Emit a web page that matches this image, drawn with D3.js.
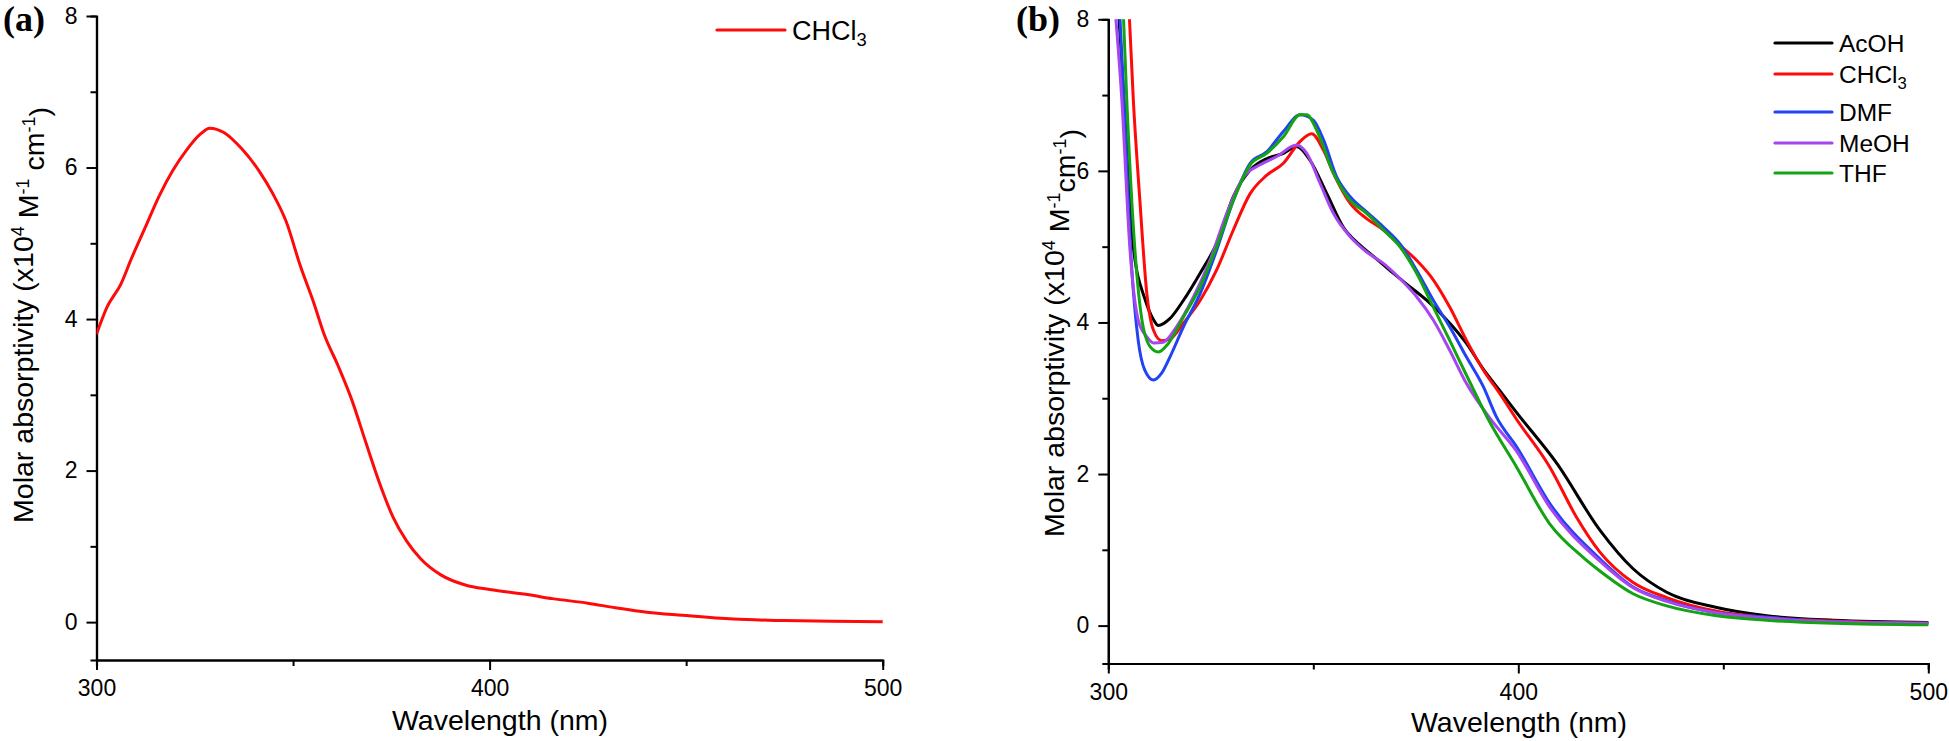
<!DOCTYPE html>
<html>
<head>
<meta charset="utf-8">
<script src="https://cdn.jsdelivr.net/npm/d3@7"></script>
<style>
  html, body { margin: 0; padding: 0; background: #fff; }
  svg { display: block; }
  text { font-family: Arial, "Liberation Sans", sans-serif; fill: #000; }
</style>
</head>
<body>
<svg id="chart" width="1949" height="741"></svg>
<script>
// ---- data (wavelength nm, molar absorptivity x10^4) ----
const xTicks = [300, 400, 500];
const xMinor = [350, 450];
const yTicks = [0, 2, 4, 6, 8];
const yMinor = [1, 3, 5, 7];

// panel (a): CHCl3 only
const chcl3A = [
  [300, 3.80], [302.7, 4.16], [306.2, 4.46], [308.9, 4.80], [312.4, 5.21],
  [315.9, 5.62], [319.4, 5.96], [322.9, 6.23], [326.4, 6.44], [328.8, 6.52],
  [332.5, 6.46], [336.9, 6.25], [341.3, 5.96], [344.8, 5.66], [348.3, 5.28],
  [351.8, 4.71], [355.3, 4.21], [357.9, 3.80], [361.4, 3.39], [364.9, 2.94],
  [368.4, 2.39], [371.9, 1.85], [375.4, 1.39], [378.9, 1.07], [382.4, 0.84],
  [387.7, 0.62], [393.8, 0.49], [400, 0.43], [410, 0.36], [416, 0.31],
  [425, 0.25], [432, 0.19], [440, 0.13], [449, 0.09], [462, 0.04],
  [475, 0.02], [487, 0.01], [500, 0.005]
];

// panel (b): solvents
const acoh = [
  [302.3, 8.3], [304.3, 6.5], [306.1, 5.0], [309.0, 4.3], [311.0, 4.04], [312.2, 3.96],
  [315.0, 4.05], [318.3, 4.29], [322.4, 4.65], [326.4, 5.04], [330.5, 5.66],
  [334.6, 6.01], [338.6, 6.16], [342.7, 6.23], [345.9, 6.32], [349.2, 6.14],
  [353.3, 5.70], [357.3, 5.26], [361.4, 5.02], [365.4, 4.84], [369.5, 4.65],
  [373.6, 4.47], [377.7, 4.29], [383.3, 3.99], [387.4, 3.72], [391.5, 3.38],
  [395.5, 3.10], [399.6, 2.81], [409.4, 2.14], [419.9, 1.26], [428.0, 0.75],
  [436.2, 0.44], [448.4, 0.24], [460.6, 0.13], [476.9, 0.07], [500, 0.04]
];
const chcl3B = [
  [304.9, 8.3], [306.1, 6.94], [307.7, 5.61], [309.4, 4.38], [311.0, 3.90],
  [313.0, 3.76], [315.0, 3.78], [318.3, 3.99], [322.4, 4.29], [326.4, 4.69],
  [330.5, 5.22], [334.6, 5.70], [338.6, 5.94], [342.7, 6.10], [346.8, 6.39],
  [349.6, 6.49], [352.5, 6.27], [354.9, 5.97], [359.0, 5.57], [363.0, 5.37],
  [367.1, 5.22], [371.1, 5.02], [375.2, 4.82], [379.3, 4.56], [383.3, 4.20],
  [387.4, 3.76], [391.5, 3.37], [395.5, 3.06], [399.6, 2.72], [407.7, 2.09],
  [414.2, 1.43], [419.9, 0.97], [428.0, 0.57], [436.2, 0.37], [448.4, 0.19],
  [460.6, 0.11], [477, 0.06], [500, 0.03]
];
const dmf = [
  [302.6, 8.3], [303.8, 6.94], [305.7, 4.73], [307.3, 3.76], [308.9, 3.37],
  [311.0, 3.24], [313.0, 3.33], [315.0, 3.54], [318.3, 3.94], [322.4, 4.38],
  [326.4, 4.95], [330.5, 5.61], [334.6, 6.10], [338.6, 6.25], [342.7, 6.52],
  [346.8, 6.74], [350.0, 6.67], [352.5, 6.41], [355.7, 5.92], [359.0, 5.66],
  [363.0, 5.46], [367.1, 5.26], [371.1, 5.04], [375.2, 4.69], [379.3, 4.29],
  [383.3, 3.94], [387.4, 3.54], [391.5, 3.15], [394.7, 2.75], [399.6, 2.36],
  [407.7, 1.61], [419.9, 0.88], [428.0, 0.51], [436.2, 0.33], [448.4, 0.17],
  [460.6, 0.11], [477, 0.05], [500, 0.03]
];
const meoh = [
  [301.4, 8.3], [303.3, 6.94], [305.3, 4.95], [307.3, 4.03], [309.4, 3.81],
  [311.0, 3.73], [313.4, 3.74], [316.6, 3.94], [320.8, 4.34], [324.8, 4.82],
  [328.9, 5.44], [333.0, 5.92], [337.0, 6.08], [341.1, 6.19], [345.9, 6.34],
  [348.4, 6.23], [351.7, 5.83], [354.9, 5.44], [359.0, 5.13], [363.0, 4.93],
  [367.1, 4.78], [371.1, 4.58], [375.2, 4.34], [379.3, 4.03], [383.3, 3.63],
  [387.4, 3.19], [393.3, 2.72], [399.6, 2.30], [407.7, 1.56], [419.9, 0.85],
  [428.0, 0.50], [436.2, 0.32], [448.4, 0.17], [460.6, 0.10], [477, 0.05],
  [500, 0.03]
];
const thf = [
  [303.5, 8.3], [304.5, 6.94], [306.5, 4.95], [308.1, 4.07], [310.2, 3.68],
  [312.2, 3.61], [314.6, 3.72], [318.3, 4.07], [322.4, 4.47], [326.4, 5.00],
  [330.5, 5.61], [334.6, 6.08], [338.6, 6.23], [342.7, 6.45], [346.8, 6.74],
  [348.4, 6.74], [350.8, 6.54], [354.9, 5.97], [359.0, 5.61], [363.0, 5.44],
  [367.1, 5.22], [371.1, 5.00], [375.2, 4.65], [379.3, 4.20], [383.3, 3.76],
  [387.4, 3.30], [392.7, 2.72], [399.6, 2.09], [407.7, 1.34], [415.8, 0.90],
  [419.9, 0.72], [428.0, 0.42], [436.2, 0.26], [448.4, 0.13], [460.6, 0.07],
  [477, 0.03], [500, 0.01]
];

const seriesB = [
  { name: "AcOH", sub: "", color: "#000000", data: acoh },
  { name: "CHCl", sub: "3", color: "#ff0a0a", data: chcl3B },
  { name: "DMF", sub: "", color: "#2243f2", data: dmf },
  { name: "MeOH", sub: "", color: "#a546f0", data: meoh },
  { name: "THF", sub: "", color: "#13a313", data: thf }
];

const svg = d3.select("#chart");

// draws axes + title for one panel, returns the scales
function buildPanel(opts) {
  const x = d3.scaleLinear().domain([300, 500]).range(opts.xRange);
  const y = d3.scaleLinear().domain([-0.5, 8]).range(opts.yRange);
  const g = svg.append("g");

  const styleAxis = (sel) => {
    sel.select(".domain").attr("stroke", "#000").attr("stroke-width", 2.2);
    sel.selectAll(".tick line").attr("stroke", "#000").attr("stroke-width", 2);
    sel.selectAll(".tick text").style("font-size", "23px").attr("fill", "#000");
  };

  // minor ticks first so major sit on top
  g.append("g")
    .attr("transform", `translate(0,${opts.yRange[0]})`)
    .call(d3.axisBottom(x).tickValues(xMinor).tickSize(6).tickFormat(""))
    .call(styleAxis);
  g.append("g")
    .attr("transform", `translate(${opts.xRange[0]},0)`)
    .call(d3.axisLeft(y).tickValues(yMinor).tickSize(6).tickFormat(""))
    .call(styleAxis);

  g.append("g")
    .attr("transform", `translate(0,${opts.yRange[0]})`)
    .call(d3.axisBottom(x).tickValues(xTicks).tickSize(10).tickSizeOuter(0).tickPadding(10).tickFormat(d3.format("d")))
    .call(styleAxis);
  g.append("g")
    .attr("transform", `translate(${opts.xRange[0]},0)`)
    .call(d3.axisLeft(y).tickValues(yTicks).tickSize(10).tickSizeOuter(0).tickPadding(9).tickFormat(d3.format("d")))
    .call(styleAxis);

  // x title
  g.append("text")
    .attr("x", opts.xTitle[0])
    .attr("y", opts.xTitle[1])
    .attr("text-anchor", "middle")
    .style("font-size", "28.5px")
    .text("Wavelength (nm)");

  // y title with superscripts
  const yt = g.append("text")
    .attr("transform", `translate(${opts.yTitle[0]},${opts.yTitle[1]}) rotate(-90)`)
    .attr("text-anchor", "middle")
    .style("font-size", "28.5px");
  yt.append("tspan").text("Molar absorptivity (x10");
  yt.append("tspan").attr("dy", "-0.5em").style("font-size", "18px").text("4");
  yt.append("tspan").attr("dy", "0.5em").text(" M");
  yt.append("tspan").attr("dy", "-0.5em").style("font-size", "18px").text("-1");
  yt.append("tspan").attr("dy", "0.5em").text(opts.cmSpace ? " cm" : "cm");
  yt.append("tspan").attr("dy", "-0.5em").style("font-size", "18px").text("-1");
  yt.append("tspan").attr("dy", "0.5em").text(")");

  // panel letter
  g.append("text")
    .attr("x", opts.letterPos[0])
    .attr("y", opts.letterPos[1])
    .style("font-family", "'Liberation Serif', 'Times New Roman', serif")
    .style("font-weight", "bold")
    .style("font-size", "36px")
    .text(opts.letter);

  // clip region = plot area
  const clipId = "clip-" + opts.letter.replace(/[()]/g, "");
  svg.append("clipPath").attr("id", clipId)
    .append("rect")
    .attr("x", opts.xRange[0])
    .attr("y", y(8))
    .attr("width", opts.xRange[1] - opts.xRange[0] + 2)
    .attr("height", y(-0.5) - y(8));

  return { x, y, g, clipId };
}

function drawLine(panel, data, color) {
  const line = d3.line()
    .x((d) => panel.x(d[0]))
    .y((d) => panel.y(d[1]))
    .curve(d3.curveMonotoneX);
  panel.g.append("path")
    .datum(data)
    .attr("clip-path", `url(#${panel.clipId})`)
    .attr("fill", "none")
    .attr("stroke", color)
    .attr("stroke-width", 3)
    .attr("stroke-linejoin", "round")
    .attr("d", line);
}

function legendRow(g, lx1, lx2, ly, color, name, sub, fontSize) {
  g.append("line")
    .attr("x1", lx1).attr("x2", lx2)
    .attr("y1", ly).attr("y2", ly)
    .attr("stroke", color)
    .attr("stroke-width", 3.2)
    .attr("stroke-linecap", "round");
  const t = g.append("text")
    .attr("x", lx2 + 7)
    .attr("y", ly + fontSize * 0.36)
    .style("font-size", fontSize + "px");
  t.append("tspan").text(name);
  if (sub) {
    t.append("tspan")
      .attr("dy", "0.35em")
      .style("font-size", fontSize * 0.68 + "px")
      .text(sub);
  }
}

// ---- panel (a) ----
const panelA = buildPanel({
  xRange: [96.5, 882.7],
  yRange: [660, 16],
  xTitle: [500, 730],
  yTitle: [33, 315],
  cmSpace: true,
  letter: "(a)",
  letterPos: [3, 31]
});
drawLine(panelA, chcl3A, "#ff0a0a");
legendRow(panelA.g, 717, 785, 30, "#ff0a0a", "CHCl", "3", 27);

// ---- panel (b) ----
const panelB = buildPanel({
  xRange: [1108.3, 1928.3],
  yRange: [663.5, 19.3],
  xTitle: [1519, 732],
  yTitle: [1064, 333],
  cmSpace: false,
  letter: "(b)",
  letterPos: [1016, 31]
});
seriesB.forEach((s) => drawLine(panelB, s.data, s.color));

const legendY = [43, 74, 112, 143, 173];
seriesB.forEach((s, i) => {
  legendRow(panelB.g, 1775, 1832, legendY[i], s.color, s.name, s.sub, 24.5);
});
</script>
</body>
</html>
